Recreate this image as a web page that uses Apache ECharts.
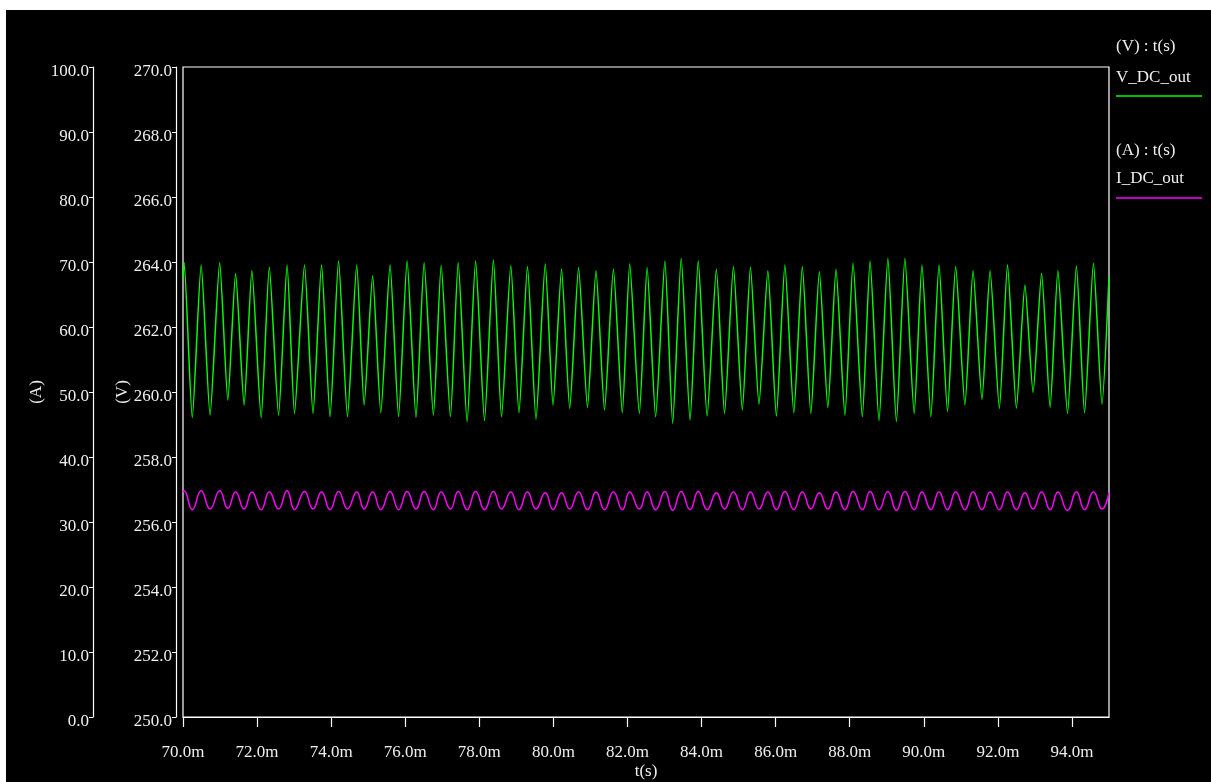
<!DOCTYPE html>
<html><head><meta charset="utf-8">
<script src="https://cdn.jsdelivr.net/npm/echarts@6/dist/echarts.min.js"></script>
<style>html,body{margin:0;padding:0;background:#fff;}#c{position:absolute;left:6px;top:10px;width:1205px;height:772px;}</style>
</head><body><div id="c"></div><script>
// time in ms (alternating extrema of the waveforms)
const timeMs = [70.00,
70.03,70.25,70.49,70.73,70.99,71.21,71.42,71.65,71.86,72.11,
72.33,72.58,72.81,73.01,73.28,73.51,73.74,73.97,74.20,74.44,
74.69,74.89,75.12,75.34,75.59,75.82,76.05,76.29,76.51,76.76,
76.97,77.22,77.43,77.67,77.90,78.14,78.38,78.60,78.85,79.07,
79.30,79.53,79.78,79.99,80.22,80.44,80.68,80.92,81.15,81.38,
81.62,81.86,82.06,82.32,82.53,82.76,83.01,83.22,83.45,83.69,
83.91,84.15,84.40,84.62,84.86,85.10,85.32,85.55,85.79,86.02,
86.25,86.49,86.72,86.95,87.18,87.41,87.63,87.87,88.09,88.34,
88.55,88.79,89.03,89.26,89.49,89.74,89.95,90.19,90.41,90.64,
90.86,91.11,91.33,91.57,91.79,92.04,92.26,92.50,92.73,92.95,
93.18,93.41,93.62,93.88,94.12,94.34,94.58,94.81,
95.00];
const vDcOut = [263.5,
263.98,259.21,263.91,259.29,263.98,259.75,263.65,259.60,263.73,259.21,
263.84,259.29,263.91,259.34,263.91,259.34,263.91,259.24,264.03,259.24,
263.91,259.60,263.58,259.36,263.91,259.24,264.03,259.22,263.98,259.29,
263.89,259.24,263.98,259.09,264.03,259.12,264.06,259.24,263.89,259.36,
263.86,259.16,263.94,259.60,263.78,259.50,263.82,259.53,263.73,259.45,
263.78,259.36,263.94,259.34,263.82,259.24,264.03,259.04,264.11,259.14,
264.03,259.26,263.78,259.34,263.86,259.45,263.84,259.63,263.73,259.26,
263.91,259.36,263.86,259.34,263.70,259.52,263.78,259.29,263.96,259.24,
264.03,259.12,264.11,259.09,264.11,259.34,263.91,259.24,263.91,259.40,
263.86,259.60,263.73,259.78,263.73,259.50,263.91,259.50,263.29,259.98,
263.65,259.53,263.73,259.34,263.88,259.36,263.96,259.63,
263.55];
const iDcOut = [34.6,
34.8,31.9,34.8,32.0,34.8,32.1,34.6,32.0,34.6,31.9,
34.6,32.0,34.8,31.9,34.7,32.0,34.6,31.9,34.7,32.0,
34.6,32.0,34.6,31.9,34.7,31.9,34.7,32.0,34.7,31.9,
34.6,32.0,34.7,31.9,34.7,31.9,34.7,32.0,34.6,31.9,
34.6,32.0,34.5,31.9,34.5,32.0,34.6,31.9,34.6,31.9,
34.6,31.9,34.6,32.0,34.6,31.9,34.7,31.8,34.7,31.9,
34.7,31.9,34.5,32.0,34.6,31.9,34.6,32.0,34.6,31.9,
34.7,31.9,34.6,32.0,34.5,32.0,34.6,31.9,34.7,31.9,
34.7,31.9,34.7,31.8,34.7,31.9,34.6,31.9,34.6,31.9,
34.6,31.9,34.6,31.9,34.6,31.9,34.6,31.9,34.5,32.0,
34.6,31.9,34.6,31.8,34.6,31.9,34.6,32.0,
34.5];
const xTicks = [70,72,74,76,78,80,82,84,86,88,90,92,94];
const vTicks = [250,252,254,256,258,260,262,264,266,268,270];
const aTicks = [0,10,20,30,40,50,60,70,80,90,100];

const FONT = 'Liberation Serif';
const TXT = '#eeeeee';
const n = Math.min(timeMs.length, vDcOut.length, iDcOut.length);
const vData = [], iData = [];
for (let k = 0; k < n; k++) { vData.push([timeMs[k], vDcOut[k]]); iData.push([timeMs[k], iDcOut[k]]); }

const chart = echarts.init(document.getElementById('c'), null, {renderer: 'canvas'});
function yAxisCfg(ticks, name, offset, gap) {
  return {
    type: 'value', position: 'left', offset: offset,
    min: ticks[0], max: ticks[ticks.length - 1], interval: ticks[1] - ticks[0],
    name: name, nameLocation: 'middle', nameGap: gap, nameMoveOverlap: false,
    nameTextStyle: {color: TXT, fontFamily: FONT, fontSize: 17},
    axisLine: {show: true, lineStyle: {color: '#fff', width: 1.2}},
    axisTick: {show: true, length: 4, lineStyle: {color: '#fff', width: 1}},
    axisLabel: {color: TXT, fontFamily: FONT, fontSize: 17, margin: 4,
      verticalAlign: 'top', lineHeight: 10,
      formatter: v => v.toFixed(1)},
    splitLine: {show: false}
  };
}
chart.setOption({
  backgroundColor: '#000',
  animation: false,
  grid: {left: 177, top: 57, width: 926, height: 650, outerBoundsMode: 'none', containLabel: false,
    show: true, borderColor: '#fff', borderWidth: 1.2, backgroundColor: 'transparent'},
  xAxis: {
    type: 'value', min: 70, max: 95, position: 'bottom', offset: 4,
    name: 't(s)', nameLocation: 'middle', nameGap: 42, nameMoveOverlap: false,
    nameTextStyle: {color: TXT, fontFamily: FONT, fontSize: 17},
    axisLine: {show: true, lineStyle: {color: '#fff', width: 1.2}},
    axisTick: {show: true, length: 10, customValues: xTicks, lineStyle: {color: '#fff', width: 1.2}},
    axisLabel: {color: TXT, fontFamily: FONT, fontSize: 17, margin: 23, customValues: xTicks,
      formatter: v => v.toFixed(1) + 'm'},
    splitLine: {show: false}
  },
  yAxis: [yAxisCfg(vTicks, '(V)', 7, 45), yAxisCfg(aTicks, '(A)', 90, 48)],
  series: [
    {name: 'V_DC_out', type: 'line', xAxisIndex: 0, yAxisIndex: 0, data: vData, showSymbol: false, smooth: 0.2,
      lineStyle: {color: '#00ff00', width: 1.5}, itemStyle: {color: '#00ff00'}},
    {name: 'I_DC_out', type: 'line', xAxisIndex: 0, yAxisIndex: 1, data: iData, showSymbol: false, smooth: 0.5,
      lineStyle: {color: '#ff00ff', width: 1.5}, itemStyle: {color: '#ff00ff'}}
  ],
  graphic: [
    {type: 'text', left: 1110, top: 28, style: {text: '(V) : t(s)', fill: TXT, font: '17px "Liberation Serif"'}},
    {type: 'text', left: 1110, top: 59, style: {text: 'V_DC_out', fill: TXT, font: '17px "Liberation Serif"'}},
    {type: 'line', shape: {x1: 1110, y1: 86, x2: 1196, y2: 86}, style: {stroke: '#00ff00', lineWidth: 1.5}},
    {type: 'text', left: 1110, top: 132, style: {text: '(A) : t(s)', fill: TXT, font: '17px "Liberation Serif"'}},
    {type: 'text', left: 1110, top: 160, style: {text: 'I_DC_out', fill: TXT, font: '17px "Liberation Serif"'}},
    {type: 'line', shape: {x1: 1110, y1: 188, x2: 1196, y2: 188}, style: {stroke: '#ff00ff', lineWidth: 1.5}}
  ]
});
</script></body></html>
